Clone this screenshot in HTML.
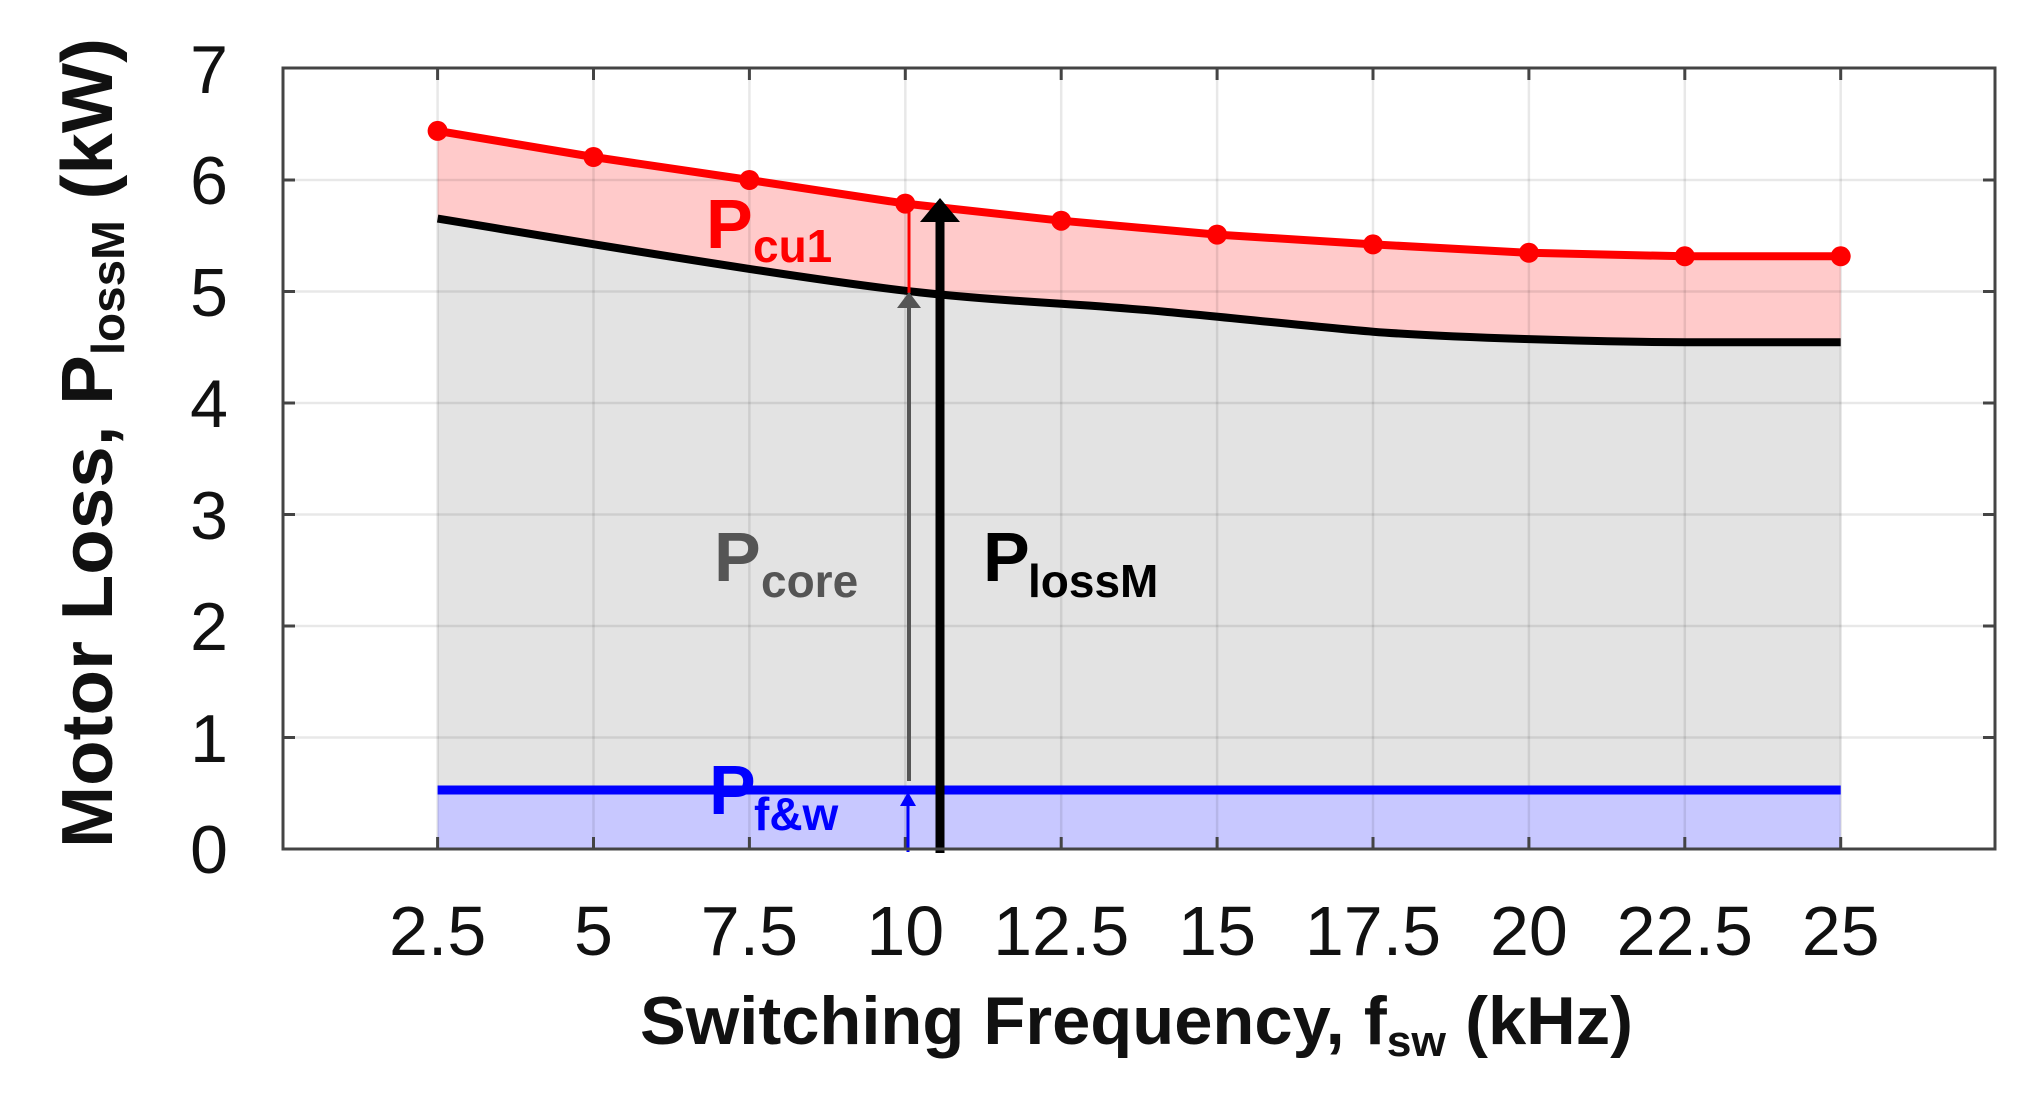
<!DOCTYPE html>
<html><head><meta charset="utf-8"><style>html,body{margin:0;padding:0;background:#fff}svg{display:block}</style></head>
<body>
<svg width="2018" height="1095" viewBox="0 0 2018 1095" xmlns="http://www.w3.org/2000/svg" font-family="Liberation Sans, sans-serif">
<rect width="2018" height="1095" fill="#fff"/>
<polygon fill="#ffcaca" points="437.6,130.9 593.5,157 749.4,180 905.3,203.6 1061.2,220.7 1217.1,234.6 1373,244.4 1528.9,252.8 1684.8,256.3 1840.7,256.3 1840.7,342.2 1684.8,342.2 1528.9,338.7 1373,331.7 1217.1,317.7 1061.2,303.7 905.3,292.3 749.4,268.9 593.5,244.4 437.6,218.6"/>
<polygon fill="#e3e3e3" points="437.6,218.6 593.5,244.4 749.4,268.9 905.3,292.3 1061.2,303.7 1217.1,317.7 1373,331.7 1528.9,338.7 1684.8,342.2 1840.7,342.2 1840.7,790 437.6,790"/>
<rect x="437.6" y="790" width="1403.1" height="59" fill="#c8c8ff"/>
<g stroke="#000" stroke-opacity="0.09" stroke-width="2.5">
<line x1="437.6" y1="68" x2="437.6" y2="849"/><line x1="593.5" y1="68" x2="593.5" y2="849"/><line x1="749.4" y1="68" x2="749.4" y2="849"/><line x1="905.3" y1="68" x2="905.3" y2="849"/><line x1="1061.2" y1="68" x2="1061.2" y2="849"/><line x1="1217.1" y1="68" x2="1217.1" y2="849"/><line x1="1373" y1="68" x2="1373" y2="849"/><line x1="1528.9" y1="68" x2="1528.9" y2="849"/><line x1="1684.8" y1="68" x2="1684.8" y2="849"/><line x1="1840.7" y1="68" x2="1840.7" y2="849"/>
<line x1="283" y1="180" x2="1995" y2="180"/><line x1="283" y1="291.5" x2="1995" y2="291.5"/><line x1="283" y1="403" x2="1995" y2="403"/><line x1="283" y1="514.5" x2="1995" y2="514.5"/><line x1="283" y1="626" x2="1995" y2="626"/><line x1="283" y1="737.5" x2="1995" y2="737.5"/>
</g>
<g stroke="#444" stroke-width="3">
<path d="M437.6,68v12M593.5,68v12M749.4,68v12M905.3,68v12M1061.2,68v12M1217.1,68v12M1373,68v12M1528.9,68v12M1684.8,68v12M1840.7,68v12"/>
<path d="M437.6,849v-12M593.5,849v-12M749.4,849v-12M905.3,849v-12M1061.2,849v-12M1217.1,849v-12M1373,849v-12M1528.9,849v-12M1684.8,849v-12M1840.7,849v-12"/>
<path d="M283,180h12M283,291.5h12M283,403h12M283,514.5h12M283,626h12M283,737.5h12"/>
<path d="M1995,180h-12M1995,291.5h-12M1995,403h-12M1995,514.5h-12M1995,626h-12M1995,737.5h-12"/>
</g>
<path fill="none" stroke="#000" stroke-width="8" d="M437.6,218.6 C520,232 600,246 749.4,268.9 S950,297 1061.2,303.7 S1300,326 1373,331.7 S1600,342 1684.8,342.2 L1840.7,342.2"/>
<line x1="437.6" y1="790" x2="1840.7" y2="790" stroke="#0000ff" stroke-width="9"/>
<polyline fill="none" stroke="#ff0000" stroke-width="8" stroke-linejoin="round" points="437.6,130.9 593.5,157 749.4,180 905.3,203.6 1061.2,220.7 1217.1,234.6 1373,244.4 1528.9,252.8 1684.8,256.3 1840.7,256.3"/>
<g fill="#ff0000">
<circle cx="437.6" cy="130.9" r="10"/><circle cx="593.5" cy="157" r="10"/><circle cx="749.4" cy="180" r="10"/><circle cx="905.3" cy="203.6" r="10"/><circle cx="1061.2" cy="220.7" r="10"/><circle cx="1217.1" cy="234.6" r="10"/><circle cx="1373" cy="244.4" r="10"/><circle cx="1528.9" cy="252.8" r="10"/><circle cx="1684.8" cy="256.3" r="10"/><circle cx="1840.7" cy="256.3" r="10"/>
</g>
<line x1="909" y1="204" x2="909" y2="293" stroke="#ff0000" stroke-width="3"/>
<line x1="909" y1="781" x2="909" y2="300" stroke="#555" stroke-width="4"/>
<polygon points="909,292 897,308 921,308" fill="#555"/>
<line x1="908" y1="852" x2="908" y2="800" stroke="#0000ff" stroke-width="3"/>
<polygon points="908,792 900,806 916,806" fill="#0000ff"/>
<line x1="940" y1="853" x2="940" y2="215" stroke="#000" stroke-width="9"/>
<polygon points="940,198 920,222 960,222" fill="#000"/>
<rect x="283" y="68" width="1712" height="781" fill="none" stroke="#444" stroke-width="3"/>
<g font-weight="bold">
<text x="706" y="248" font-size="70" fill="#ff0000">P</text><text x="753" y="262" font-size="46" fill="#ff0000">cu1</text>
<text x="714" y="581" font-size="70" fill="#555">P</text><text x="761" y="597" font-size="46" fill="#555">core</text>
<text x="983" y="581" font-size="70" fill="#000">P</text><text x="1028" y="597" font-size="46" fill="#000">lossM</text>
<text x="709" y="814" font-size="70" fill="#0000ff">P</text><text x="754" y="830" font-size="46" fill="#0000ff">f&amp;w</text>
</g>
<g font-size="68" text-anchor="end" fill="#111">
<text x="228" y="873">0</text><text x="228" y="762">1</text><text x="228" y="650">2</text><text x="228" y="539">3</text><text x="228" y="427">4</text><text x="228" y="316">5</text><text x="228" y="204">6</text><text x="228" y="93">7</text>
</g>
<g font-size="70" text-anchor="middle" fill="#111">
<text x="437.6" y="955">2.5</text><text x="593.5" y="955">5</text><text x="749.4" y="955">7.5</text><text x="905.3" y="955">10</text><text x="1061.2" y="955">12.5</text><text x="1217.1" y="955">15</text><text x="1373" y="955">17.5</text><text x="1528.9" y="955">20</text><text x="1684.8" y="955">22.5</text><text x="1840.7" y="955">25</text>
</g>
<text x="640" y="1044" font-size="68" font-weight="bold" fill="#111" textLength="993" lengthAdjust="spacingAndGlyphs">Switching Frequency, f<tspan font-size="44" dy="12">sw</tspan><tspan dy="-12"> (kHz)</tspan></text>
<text transform="translate(112,848) rotate(-90)" font-size="72" font-weight="bold" fill="#111" textLength="810" lengthAdjust="spacingAndGlyphs">Motor Loss,  P<tspan font-size="46" dy="12">lossM</tspan><tspan dy="-12">  (kW)</tspan></text>
</svg>
</body></html>
